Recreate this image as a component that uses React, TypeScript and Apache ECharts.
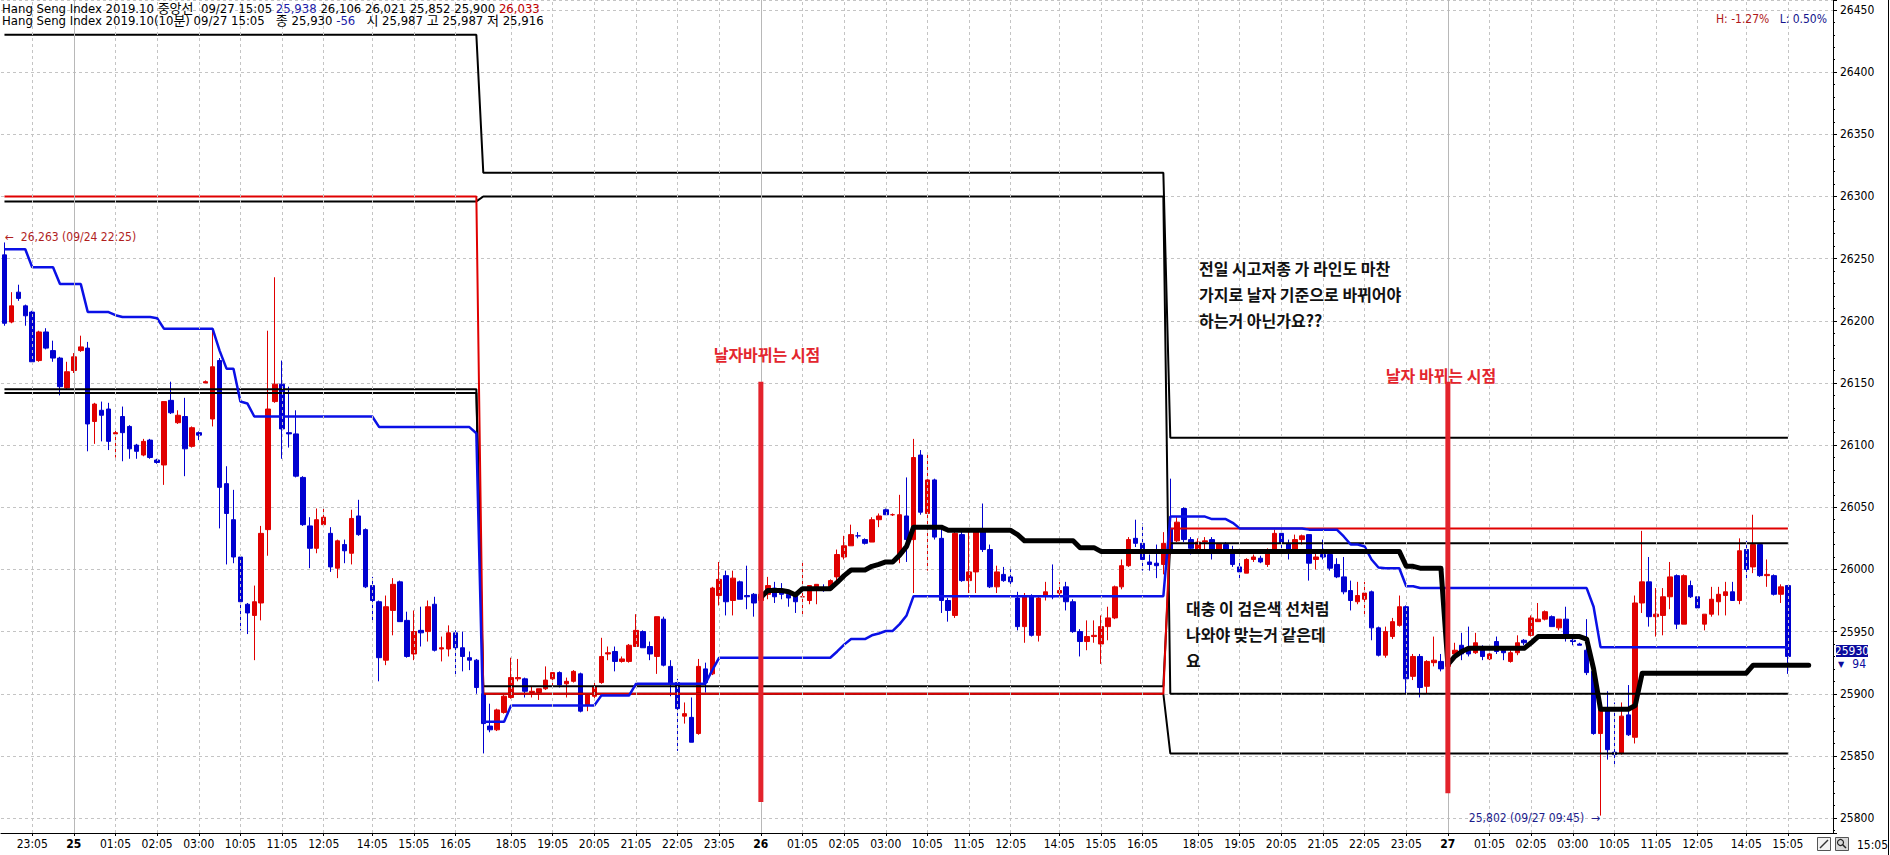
import { useEffect, useRef } from "react";
import * as echarts from "echarts";

// ---------- time axis: 10-minute bars, grouped in trading blocks ----------
const timeBlocks: [string, string, string, string[]][] = [
  ["09/24", "22:25", "23:55", []],
  ["09/25", "00:05", "02:55", ["03:00"]],
  ["09/25", "09:15", "11:55", ["12:05"]],
  ["09/25", "13:05", "16:25", ["16:30"]],
  ["09/25", "17:25", "23:55", []],
  ["09/26", "00:05", "02:55", ["03:00"]],
  ["09/26", "09:15", "11:55", ["12:05"]],
  ["09/26", "13:05", "16:25", ["16:30"]],
  ["09/26", "17:25", "23:55", []],
  ["09/27", "00:05", "02:55", ["03:00"]],
  ["09/27", "09:15", "11:55", ["12:05"]],
  ["09/27", "13:05", "16:05", []],
];

// ---------- candles [open, high, low, close] ----------
const bars0925Night = [
  [26253, 26263, 26196, 26198], [26199, 26223, 26198, 26212], [26223, 26229, 26216, 26218], [26212, 26213, 26196, 26204],
  [26207, 26208, 26167, 26167], [26168, 26192, 26167, 26191], [26191, 26194, 26177, 26178], [26176, 26184, 26167, 26170],
  [26170, 26171, 26140, 26147], [26146, 26167, 26145, 26159], [26160, 26174, 26158, 26171], [26176, 26188, 26175, 26179],
  [26178, 26183, 26095, 26117], [26119, 26134, 26101, 26133], [26128, 26135, 26103, 26124], [26129, 26134, 26096, 26103],
  [26109, 26112, 26090, 26110], [26123, 26131, 26087, 26110], [26115, 26116, 26089, 26097], [26100, 26101, 26089, 26095],
  [26092, 26105, 26091, 26103], [26104, 26105, 26089, 26090], [26088, 26089, 26085, 26086], [26084, 26135, 26068, 26135],
  [26136, 26151, 26125, 26126], [26118, 26128, 26117, 26124], [26123, 26138, 26075, 26097], [26099, 26115, 26098, 26114],
  [26110, 26111, 26104, 26108],
];
const bars0925Day = [
  [26150, 26152, 26150, 26151], [26121, 26193, 26115, 26163], [26168, 26170, 26033, 26066], [26069, 26083, 26004, 26045],
  [26040, 26064, 26005, 26010], [26010, 26011, 25951, 25974], [25972, 25973, 25948, 25965], [25963, 25987, 25927, 25974],
  [25973, 26035, 25959, 26029], [26032, 26192, 26011, 26129], [26135, 26235, 26134, 26149], [26149, 26168, 26089, 26113],
  [26110, 26147, 26098, 26109], [26109, 26128, 26074, 26075], [26074, 26075, 26035, 26036], [26035, 26042, 26001, 26017],
  [26017, 26049, 26013, 26040], [26036, 26049, 26034, 26042], [26029, 26034, 25998, 26002], [26001, 26024, 25993, 26023],
  [26020, 26024, 26005, 26015], [26013, 26048, 26004, 26041], [26043, 26056, 26027, 26028], [26032, 26033, 25985, 25986],
  [25987, 25994, 25957, 25975], [25974, 25975, 25910, 25929], [25927, 25979, 25923, 25970], [25967, 25993, 25947, 25988],
  [25990, 25991, 25958, 25958], [25959, 25966, 25929, 25930], [25932, 25967, 25927, 25950], [25951, 25970, 25938, 25949],
  [25950, 25975, 25942, 25970], [25972, 25978, 25934, 25935], [25936, 25946, 25926, 25937], [25936, 25955, 25930, 25949],
  [25949, 25951, 25915, 25937], [25937, 25950, 25918, 25930], [25929, 25934, 25919, 25927], [25927, 25928, 25900, 25905],
];
const bars0926Night = [
  [25900, 25903, 25852, 25876], [25874, 25892, 25869, 25871], [25871, 25888, 25870, 25887], [25885, 25899, 25884, 25898],
  [25897, 25929, 25896, 25913], [25912, 25928, 25910, 25913], [25912, 25913, 25897, 25902], [25901, 25906, 25897, 25902],
  [25901, 25904, 25895, 25904], [25904, 25922, 25903, 25911], [25912, 25917, 25907, 25917], [25917, 25918, 25905, 25907],
  [25908, 25913, 25897, 25910], [25910, 25919, 25909, 25918], [25916, 25917, 25885, 25886], [25891, 25900, 25886, 25899],
  [25898, 25911, 25896, 25906], [25909, 25945, 25908, 25930], [25932, 25938, 25927, 25933], [25934, 25938, 25918, 25926],
  [25926, 25930, 25925, 25928], [25926, 25940, 25925, 25939], [25938, 25964, 25938, 25951], [25950, 25951, 25937, 25937],
  [25938, 25942, 25927, 25932], [25930, 25962, 25916, 25962], [25960, 25962, 25922, 25923], [25922, 25927, 25898, 25908],
  [25909, 25912, 25854, 25888], [25882, 25893, 25876, 25884], [25881, 25897, 25861, 25861], [25868, 25928, 25867, 25922],
  [25920, 25925, 25901, 25909], [25916, 25986, 25915, 25985], [25979, 26006, 25971, 25992], [25995, 25999, 25963, 25974],
  [25975, 25999, 25963, 25993], [25990, 25991, 25976, 25976], [25979, 26003, 25968, 25978], [25980, 25981, 25962, 25973],
  [25975, 25983, 25972, 25980], [25980, 25994, 25976, 25987], [25985, 25990, 25973, 25978], [25982, 25989, 25976, 25980],
  [25980, 25983, 25970, 25977], [25979, 25982, 25965, 25974], [25978, 26006, 25963, 25978], [25975, 25987, 25972, 25987],
  [25984, 25988, 25972, 25988], [25985, 25988, 25982, 25983], [25984, 25992, 25984, 25991], [25994, 26016, 25991, 26012],
  [26010, 26027, 26008, 26019], [26019, 26036, 26019, 26028], [26027, 26030, 26025, 26027], [26024, 26025, 26020, 26021],
  [26022, 26042, 26022, 26040], [26040, 26045, 26034, 26043], [26048, 26049, 26044, 26044],
];
const bars0926Day = [
  [26044, 26045, 26043, 26044], [26012, 26060, 26005, 26044], [26043, 26074, 26006, 26024], [26024, 26105, 25981, 26090],
  [26092, 26096, 26044, 26046], [26045, 26092, 25999, 26072], [26072, 26073, 26024, 26026], [26025, 26032, 25965, 25975],
  [25975, 25977, 25958, 25967], [25963, 26032, 25961, 26029], [26028, 26031, 25990, 25991], [25991, 26032, 25981, 25998],
  [25998, 26033, 25981, 26032], [26031, 26053, 26014, 26016], [26016, 26020, 25985, 25986], [25986, 26003, 25981, 25998],
  [25996, 26002, 25990, 25991], [25994, 26000, 25988, 25990], [25977, 25982, 25951, 25954], [25954, 25981, 25941, 25978],
  [25978, 25980, 25946, 25947], [25947, 25978, 25942, 25977], [25979, 25990, 25975, 25982], [25979, 26004, 25976, 25978],
  [25981, 25990, 25978, 25983], [25986, 25990, 25967, 25974], [25974, 25976, 25949, 25950], [25950, 25952, 25930, 25942],
  [25942, 25959, 25935, 25946], [25946, 25959, 25941, 25947], [25940, 25963, 25924, 25954], [25954, 25970, 25943, 25961],
  [25961, 25987, 25960, 25986], [25986, 26008, 25984, 26003], [26003, 26026, 26002, 26024], [26025, 26040, 26018, 26021],
  [26021, 26037, 25999, 26008], [26006, 26012, 25999, 26004], [26005, 26020, 25993, 26003], [26004, 26030, 25996, 26021],
];
const bars0927Night = [
  [26033, 26073, 26012, 26013], [26023, 26042, 26022, 26038], [26049, 26050, 26022, 26024], [26024, 26026, 26012, 26017],
  [26016, 26025, 26014, 26022], [26022, 26026, 26015, 26023], [26024, 26026, 26008, 26014], [26015, 26021, 26014, 26021],
  [26020, 26022, 26013, 26014], [26016, 26019, 26002, 26004], [26002, 26008, 25993, 25998], [25997, 26009, 25997, 26008],
  [26008, 26012, 26006, 26010], [26009, 26011, 26005, 26006], [26004, 26017, 26002, 26016], [26016, 26032, 26014, 26029],
  [26029, 26032, 26015, 26021], [26021, 26024, 26008, 26016], [26016, 26028, 26014, 26024], [26024, 26028, 26020, 26027],
  [26028, 26028, 25991, 26005], [26008, 26013, 26000, 26010], [26012, 26024, 26008, 26010], [26012, 26013, 25999, 26001],
  [26004, 26009, 25993, 25994], [25994, 26010, 25980, 25982], [25983, 25991, 25967, 25975], [25974, 25990, 25972, 25979],
  [25976, 25990, 25964, 25981], [25982, 25983, 25943, 25953], [25953, 25954, 25930, 25931], [25931, 25954, 25929, 25950],
  [25946, 25961, 25944, 25958], [25955, 25979, 25954, 25970], [25970, 25971, 25900, 25912], [25914, 25932, 25911, 25930],
  [25930, 25932, 25897, 25905], [25906, 25927, 25900, 25926], [25925, 25946, 25922, 25927], [25926, 25932, 25918, 25920],
  [25922, 25928, 25919, 25926], [25932, 25941, 25931, 25935], [25939, 25949, 25927, 25932], [25935, 25954, 25930, 25932],
  [25933, 25949, 25932, 25941], [25938, 25939, 25927, 25930], [25928, 25939, 25927, 25932], [25942, 25946, 25932, 25934],
  [25935, 25936, 25927, 25933], [25926, 25935, 25925, 25933], [25933, 25947, 25931, 25941], [25943, 25944, 25939, 25941],
  [25947, 25963, 25946, 25961], [25958, 25973, 25958, 25960], [25960, 25967, 25959, 25966], [25962, 25963, 25954, 25954],
  [25953, 25960, 25951, 25960], [25960, 25970, 25942, 25946], [25943, 25946, 25939, 25942],
];
const bars0927Day = [
  [25940, 25941, 25939, 25939], [25935, 25960, 25915, 25917], [25918, 25918, 25867, 25868], [25868, 25888, 25802, 25887],
  [25887, 25902, 25847, 25855], [25853, 25893, 25841, 25851], [25852, 25893, 25851, 25882], [25883, 25907, 25866, 25867],
  [25865, 25979, 25860, 25973], [25973, 26031, 25965, 25990], [25990, 26010, 25954, 25962], [25962, 25985, 25946, 25964],
  [25963, 25985, 25947, 25978], [25978, 26006, 25968, 25994], [25995, 25996, 25952, 25956], [25956, 25996, 25956, 25995],
  [25987, 25991, 25977, 25978], [25978, 25978, 25968, 25969], [25956, 25964, 25951, 25964], [25964, 25986, 25962, 25976],
  [25974, 25986, 25963, 25980], [25979, 25990, 25963, 25982], [25982, 25990, 25975, 25975], [25975, 26025, 25972, 26015],
  [26016, 26023, 25991, 26000], [26002, 26044, 25997, 26020], [26020, 26020, 25994, 25995], [25995, 26008, 25986, 25996],
  [25995, 25996, 25979, 25980], [25980, 25988, 25973, 25986], [25987, 25987, 25916, 25930],
];

// ---------- previous-session reference lines (one value per session) ----------
const prevHigh = [26430, 26319, 26106];
const prevOpen = [26296, 26300, 25900];
const prevClose = [26145, 25906, 26021];
const prevLow = [26142, 25900, 25852];
const sessionOpen = [26300, 25900, 26033];
const firstSessionPriorHigh = 26319;
const firstSessionPriorLow = 26230;

// ---------- hand-drawn annotations ----------
const dateChangeMarks = [
  { at: "09/26 00:05", top: 26151, bottom: 25813 },
  { at: "09/27 00:05", top: 26151, bottom: 25820 },
];
const userLineFrom = "09/26 00:05";
const userLineExtraBars = 3;

const yMin = 25788;
const yMax = 26458;

// ---------- derived ----------
const pad2 = (n: number) => (n < 10 ? "0" : "") + n;
function timeRange(a: string, b: string): string[] {
  const [h0, m0] = a.split(":").map(Number);
  const [h1, m1] = b.split(":").map(Number);
  const out: string[] = [];
  for (let t = h0 * 60 + m0; t <= h1 * 60 + m1; t += 10) out.push(pad2(Math.floor(t / 60)) + ":" + pad2(t % 60));
  return out;
}
const categories: string[] = [];
for (const [d, a, b, extra] of timeBlocks) for (const t of [...timeRange(a, b), ...extra]) categories.push(`${d} ${t}`);

const bars = [...bars0925Night, ...bars0925Day, ...bars0926Night, ...bars0926Day, ...bars0927Night, ...bars0927Day];
const N = bars.length;
const highs = bars.map((b) => b[1]);
const lows = bars.map((b) => b[2]);
const candleData = bars.map(([o, h, l, c]) => [o, c, l, h]);

const sessionBounds = [0];
categories.forEach((c, i) => { if (i > 0 && i < N && c.endsWith("17:25")) sessionBounds.push(i); });
sessionBounds.push(N);

function stepSeries(vals: number[]) {
  const out: (number | null)[] = [];
  for (let s = 0; s < vals.length; s++) for (let i = sessionBounds[s]; i < sessionBounds[s + 1]; i++) out[i] = vals[s];
  return out;
}

const centerLine: number[] = [];
{
  let hi = firstSessionPriorHigh, lo = firstSessionPriorLow;
  for (let i = 0; i < N; i++) {
    if (i > 0 && sessionBounds.includes(i)) { hi = -Infinity; lo = Infinity; }
    hi = Math.max(hi, highs[i]); lo = Math.min(lo, lows[i]);
    centerLine.push((hi + lo) / 2);
  }
}
const userLine: (number | null)[] = categories.map(() => null);
{
  let hi = -Infinity, lo = Infinity;
  for (let i = categories.indexOf(userLineFrom); i < N; i++) {
    if (categories[i].endsWith("00:05")) { hi = -Infinity; lo = Infinity; }
    hi = Math.max(hi, highs[i]); lo = Math.min(lo, lows[i]);
    userLine[i] = (hi + lo) / 2;
  }
  for (let k = 1; k <= userLineExtraBars; k++) userLine[N - 1 + k] = userLine[N - 1];
}

const labelText = categories.map((c, i) => {
  if (i >= N) return "";
  const t = c.slice(6);
  if (t === "00:05") return `{d|${Number(c.slice(3, 5))}}`;
  if (t === "03:00") return t;
  if (t.endsWith(":05") && !t.startsWith("13")) return t;
  return "";
});

const fmt = (v: number) => Math.round(v).toLocaleString("en-US");
let hiIdx = 0, loIdx = 0;
for (let i = 0; i < N; i++) { if (highs[i] > highs[hiIdx]) hiIdx = i; if (lows[i] < lows[loIdx]) loIdx = i; }
const last = bars[N - 1];
const prevBarClose = bars[N - 2][3];
const hiPct = ((last[3] - highs[hiIdx]) / highs[hiIdx]) * 100;
const loPct = ((last[3] - lows[loIdx]) / lows[loIdx]) * 100;

const NUMFONT = "'Liberation Sans Narrow', 'DejaVu Sans Condensed', 'Liberation Sans', 'Noto Sans CJK KR', sans-serif";
const KFONT = "'Noto Sans CJK KR', sans-serif";

function buildOption(): any {
  const vGrid = categories
    .map((c, i) => ({ c, i }))
    .filter(({ i }) => labelText[i])
    .map(({ c, i }) => ({
      xAxis: c,
      lineStyle: labelText[i].startsWith("{d|")
        ? { type: "solid", color: "#b8b8b8", width: 1 }
        : { type: [3, 3], color: "#c4c4c4", width: 1 },
    }));

  const refLine = (name: string, vals: number[], color: string, z: number) => ({
    name, type: "line", data: stepSeries(vals), showSymbol: false, symbol: "none", silent: true, z,
    lineStyle: { color, width: 2 }, animation: false,
  });

  const header1 = `Hang Seng Index 2019.10 중앙선  09/27 15:05 {b|${fmt(centerLine[N - 1])}} ${fmt(prevHigh[2])} ${fmt(prevClose[2])} ${fmt(prevLow[2])} ${fmt(prevOpen[2])} {r|${fmt(sessionOpen[2])}}`;
  const chg = last[3] - prevBarClose;
  const header2 = `Hang Seng Index 2019.10(10분) 09/27 15:05   종 ${fmt(last[3])} {b|${chg}}   시 ${fmt(last[0])} 고 ${fmt(last[1])} 저 ${fmt(last[2])}`;
  const HS = 13;

  return {
    animation: false,
    backgroundColor: "#ffffff",
    grid: { left: 1, top: 0, right: 57, bottom: 22, containLabel: false },
    xAxis: {
      type: "category",
      data: categories,
      boundaryGap: true,
      axisLine: { lineStyle: { color: "#000", width: 1 } },
      axisTick: { show: true, alignWithLabel: true, interval: (i: number) => !!labelText[i], length: 3, lineStyle: { color: "#000" } },
      axisLabel: {
        interval: (i: number) => !!labelText[i],
        formatter: (_v: string, i: number) => labelText[i],
        fontFamily: NUMFONT, fontSize: 12, color: "#000", margin: 5,
        rich: { d: { fontWeight: "bold", fontSize: 12, fontFamily: NUMFONT, color: "#000" } },
      },
      splitLine: { show: false },
    },
    yAxis: {
      type: "value",
      position: "right",
      min: yMin,
      max: yMax,
      splitNumber: 13,
      minInterval: 50,
      maxInterval: 50,
      axisLine: { show: true, lineStyle: { color: "#000", width: 1 } },
      axisTick: { show: true, length: 4, lineStyle: { color: "#000" } },
      minorTick: { show: true, splitNumber: 5, length: 2, lineStyle: { color: "#000" } },
      axisLabel: { showMinLabel: false, showMaxLabel: false, margin: 7, fontFamily: NUMFONT, fontSize: 12, color: "#000", formatter: (v: number) => String(v) },
      splitLine: { show: true, lineStyle: { color: "#c4c4c4", type: [3, 3], width: 1 } },
    },
    series: [
      {
        name: "grid", type: "line", data: [], silent: true, z: 0,
        markLine: { silent: true, symbol: ["none", "none"], label: { show: false }, animation: false, data: vGrid },
      },
      {
        name: "candles", type: "candlestick", data: candleData, barWidth: 5, z: 2, silent: true,
        itemStyle: { color: "#e00000", color0: "#0000d0", borderColor: "#e00000", borderColor0: "#0000d0", borderWidth: 1 },
        markPoint: {
          silent: true, symbol: "rect", symbolSize: 1, itemStyle: { color: "rgba(0,0,0,0)" }, animation: false,
          data: [
            {
              coord: [categories[hiIdx], highs[hiIdx]],
              label: { show: true, position: "right", distance: 0, offset: [0, -5], formatter: `←  ${fmt(highs[hiIdx])} (${categories[hiIdx]})`, color: "#b01e1e", fontSize: 12, fontFamily: NUMFONT },
            },
            {
              coord: [categories[loIdx], lows[loIdx]],
              label: { show: true, position: "left", distance: 0, offset: [0, 2], formatter: `${fmt(lows[loIdx])} (${categories[loIdx]})  →`, color: "#1c1c8c", fontSize: 12, fontFamily: NUMFONT },
            },
          ],
        },
      },
      refLine("prevHigh", prevHigh, "#000", 3),
      refLine("prevOpen", prevOpen, "#000", 3),
      refLine("prevClose", prevClose, "#000", 3),
      refLine("prevLow", prevLow, "#000", 3),
      refLine("sessionOpen", sessionOpen, "#e00000", 3),
      {
        name: "center", type: "line", data: centerLine, showSymbol: false, symbol: "none", silent: true, z: 4,
        lineStyle: { color: "#0a10e6", width: 2.5 },
      },
      {
        name: "user", type: "line", data: userLine, showSymbol: false, symbol: "none", silent: true, z: 5, connectNulls: false,
        lineStyle: { color: "#000", width: 5, join: "round", cap: "round" },
      },
      ...dateChangeMarks.map((m, k) => ({
        name: "mark" + k, type: "line", data: [[m.at, m.top], [m.at, m.bottom]], showSymbol: false, symbol: "none", silent: true, z: 6,
        lineStyle: { color: "#e3232c", width: 5, cap: "butt" },
      })),
    ],
    graphic: [
      { type: "text", x: 2, y: 8, z: 10, style: { text: header1, fill: "#000", fontSize: HS, fontFamily: NUMFONT, verticalAlign: "middle", textVerticalAlign: "middle", rich: { b: { fill: "#1d1da8", fontSize: HS, fontFamily: NUMFONT }, r: { fill: "#c00000", fontSize: HS, fontFamily: NUMFONT } } } },
      { type: "text", x: 2, y: 20, z: 10, style: { text: header2, fill: "#000", fontSize: HS, fontFamily: NUMFONT, verticalAlign: "middle", textVerticalAlign: "middle", rich: { b: { fill: "#1d1da8", fontSize: HS, fontFamily: NUMFONT } } } },
      { type: "text", x: 1827, y: 19, z: 10, style: { text: `{h|H: ${hiPct.toFixed(2)}%}   {l|L: ${loPct.toFixed(2)}%}`, fontSize: 12, fontFamily: NUMFONT, align: "right", textAlign: "right", verticalAlign: "middle", textVerticalAlign: "middle", rich: { h: { fill: "#b01818", fontSize: 12, fontFamily: NUMFONT }, l: { fill: "#14148c", fontSize: 12, fontFamily: NUMFONT } } } },
      { type: "text", x: 767, y: 354, z: 10, style: { text: "날자바뀌는 시점", fill: "#e3262e", fontSize: 16, fontWeight: "bold", fontFamily: KFONT, align: "center", textAlign: "center", verticalAlign: "middle", textVerticalAlign: "middle" } },
      { type: "text", x: 1441, y: 375, z: 10, style: { text: "날자 바뀌는 시점", fill: "#e3262e", fontSize: 16, fontWeight: "bold", fontFamily: KFONT, align: "center", textAlign: "center", verticalAlign: "middle", textVerticalAlign: "middle" } },
      { type: "text", x: 1199, y: 255, z: 10, style: { text: "전일 시고저종 가 라인도 마찬\n가지로 날자 기준으로 바뀌어야\n하는거 아닌가요??", fill: "#111", fontSize: 16, fontWeight: "bold", fontFamily: KFONT, lineHeight: 26, verticalAlign: "top", textVerticalAlign: "top" } },
      { type: "text", x: 1186, y: 595, z: 10, style: { text: "대충 이 검은색 선처럼\n나와야 맞는거 같은데\n요", fill: "#111", fontSize: 16, fontWeight: "bold", fontFamily: KFONT, lineHeight: 26, verticalAlign: "top", textVerticalAlign: "top" } },
      { type: "rect", z: 10, shape: { x: 1836, y: 645, width: 32, height: 12 }, style: { fill: "#0b0b9c" } },
      { type: "text", x: 1852, y: 651, z: 11, style: { text: String(last[3]), fill: "#fff", fontSize: 12, fontFamily: NUMFONT, align: "center", textAlign: "center", verticalAlign: "middle", textVerticalAlign: "middle" } },
      { type: "text", x: 1838, y: 664, z: 11, style: { text: "▼", fill: "#0b0b9c", fontSize: 8, fontFamily: "'DejaVu Sans', sans-serif", verticalAlign: "middle", textVerticalAlign: "middle" } },
      { type: "text", x: 1866, y: 664, z: 11, style: { text: "94", fill: "#0b0b9c", fontSize: 12, fontFamily: NUMFONT, align: "right", textAlign: "right", verticalAlign: "middle", textVerticalAlign: "middle" } },
      { type: "rect", z: 10, shape: { x: 1817.5, y: 837.5, width: 13, height: 13 }, style: { fill: "#f2f2f2", stroke: "#555", lineWidth: 1 } },
      { type: "line", z: 11, shape: { x1: 1820, y1: 848, x2: 1828, y2: 840 }, style: { stroke: "#333", lineWidth: 1.5 } },
      { type: "rect", z: 10, shape: { x: 1835.5, y: 837.5, width: 13, height: 13 }, style: { fill: "#d9d9d9", stroke: "#555", lineWidth: 1 } },
      { type: "circle", z: 11, shape: { cx: 1840.5, cy: 842.5, r: 3 }, style: { fill: "none", stroke: "#222", lineWidth: 1.2 } },
      { type: "line", z: 11, shape: { x1: 1842.5, y1: 844.5, x2: 1846, y2: 848 }, style: { stroke: "#222", lineWidth: 1.5 } },
      { type: "text", x: 1857, y: 845, z: 10, style: { text: categories[N - 1].slice(6), fill: "#000", fontSize: 12, fontFamily: NUMFONT, verticalAlign: "middle", textVerticalAlign: "middle" } },
      { type: "line", z: 10, shape: { x1: 1888.5, y1: 0, x2: 1888.5, y2: 855 }, style: { stroke: "#000", lineWidth: 1 } },
    ],
  };
}

export default function App() {
  const ref = useRef<HTMLDivElement>(null);
  useEffect(() => {
    document.body.style.margin = "0";
    const chart = echarts.init(ref.current as HTMLDivElement, null, { renderer: "svg" });
    chart.setOption(buildOption());
    return () => chart.dispose();
  }, []);
  return <div ref={ref} style={{ position: "absolute", left: 0, top: 0, width: 1890, height: 855, background: "#fff" }} />;
}
